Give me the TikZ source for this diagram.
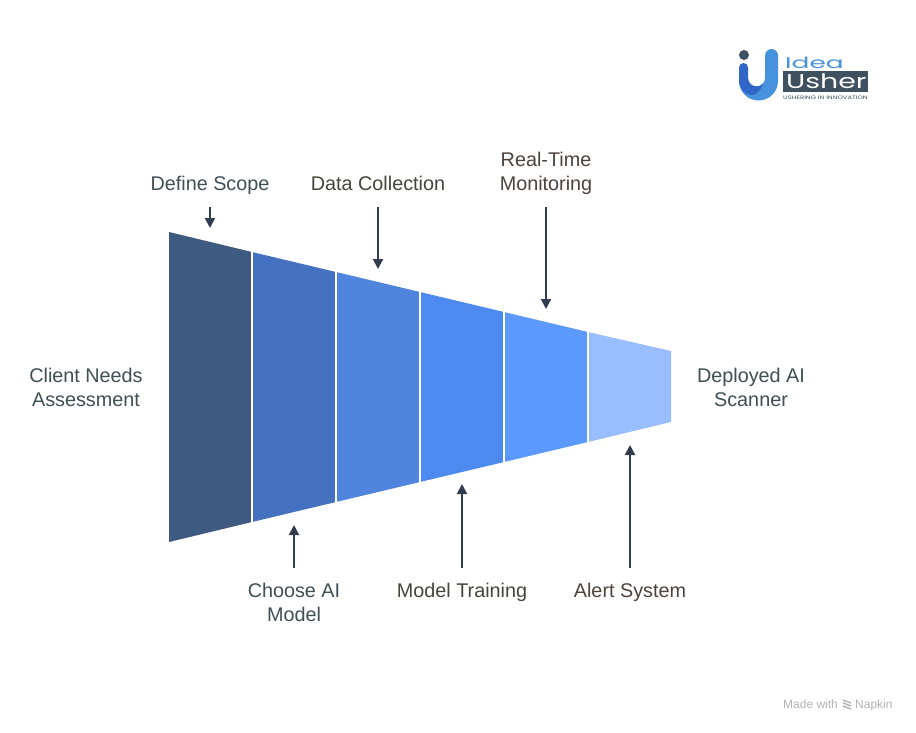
\documentclass[tikz,border=0pt]{standalone}
\usepackage{fontspec}
\setmainfont{Liberation Sans}
\newfontfamily\logofont{Poppins}
\usetikzlibrary{arrows.meta,positioning,calc}
\definecolor{segA}{HTML}{3F5A80}
\definecolor{segB}{HTML}{4472C0}
\definecolor{segC}{HTML}{5085DD}
\definecolor{segD}{HTML}{4D8AF0}
\definecolor{segE}{HTML}{5B99FF}
\definecolor{segF}{HTML}{99BEFF}
\definecolor{arrowcol}{HTML}{333D50}
\definecolor{logodark}{HTML}{3F5060}
\definecolor{logoblue}{HTML}{4692DC}
\definecolor{logodeep}{HTML}{3066C8}
\definecolor{txtslate}{HTML}{3F4F55}
\definecolor{txtolive}{HTML}{45453C}
\definecolor{txtbrown}{HTML}{4E423C}
\newcommand{\lblstrut}{\rule[-5pt]{0pt}{19pt}}
\tikzset{
  lbl/.style={font=\fontsize{19.8}{24}\selectfont, align=center, inner sep=0pt},
  toplbl/.style={lbl, anchor=south, inner ysep=11pt},
  botlbl/.style={lbl, anchor=north, inner ysep=15pt},
  flow/.style={-{Stealth[length=10pt,width=10pt,inset=0pt]}, draw=arrowcol, line width=2pt},
  credit/.style={font=\fontsize{12}{14}\selectfont, text=black!30, inner sep=0pt, anchor=base west},
}
\begin{document}
\begin{tikzpicture}[x=1pt, y=-1pt, line join=round]
\useasboundingbox (0,0) rectangle (916,732);
\fill[white] (0,0) rectangle (916,732);
% funnel
\fill[segA] (169,232)--(252,252)--(252,522)--(169,542)--cycle;
\fill[segB] (252,252)--(336,272)--(336,502)--(252,522)--cycle;
\fill[segC] (336,272)--(420,292)--(420,482)--(336,502)--cycle;
\fill[segD] (420,292)--(504,312)--(504,462)--(420,482)--cycle;
\fill[segE] (504,312)--(588,332)--(588,442)--(504,462)--cycle;
\fill[segF] (588,332)--(671,351)--(671,422)--(588,442)--cycle;
\foreach \x/\t/\b in {252/251/523,336/271/503,420/291/483,504/311/463,588/331/443}
  \draw[white, line width=2pt] (\x,\t)--(\x,\b);
% labels
\node[lbl, text=txtslate] (client) at (86,390) {\lblstrut Client Needs\\\lblstrut Assessment};
\node[lbl, text=txtslate] (scanner) at (751,390) {\lblstrut Deployed AI\\\lblstrut Scanner};
\node[toplbl, text=txtslate] (scope) at (210,207) {\lblstrut Define Scope};
\node[toplbl, text=txtolive] (collect) at (378,207) {\lblstrut Data Collection};
\node[toplbl, text=txtbrown] (monitor) at (546,207) {\lblstrut Real-Time\\\lblstrut Monitoring};
\node[botlbl, text=txtslate] (choose) at (294,568) {\lblstrut Choose AI\\\lblstrut Model};
\node[botlbl, text=txtolive] (train) at (462,568) {\lblstrut Model Training};
\node[botlbl, text=txtbrown] (alert) at (630,568) {\lblstrut Alert System};
% arrows
\coordinate (scopetip) at (210,228);
\coordinate (collecttip) at (378,269);
\coordinate (monitortip) at (546,309);
\coordinate (choosetip) at (294,525);
\coordinate (traintip) at (462,484);
\coordinate (alerttip) at (630,445);
\draw[flow] (scope.south)--(scopetip);
\draw[flow] (collect.south)--(collecttip);
\draw[flow] (monitor.south)--(monitortip);
\draw[flow] (choose.north)--(choosetip);
\draw[flow] (train.north)--(traintip);
\draw[flow] (alert.north)--(alerttip);
% logo
\fill[logodark] (744,55) circle(5);
\fill[logoblue] (765,55.5) arc(180:360:6.5) -- (778,81) arc(0:180:19.5) -- (748,78) arc(180:0:8.5) -- cycle;
\fill[logodeep] (739,67.5) arc(180:360:4.5) -- (748,78) arc(180:40:8.5) .. controls (760,92) and (756,95) .. (752,95) .. controls (745,95) and (739,88) .. (739,80) -- cycle;
\node[inner sep=0pt, text=logoblue, anchor=west] (idea) at (785,62.5) {\logofont\fontsize{15.5}{15.5}\selectfont\scalebox{1.7}[1]{Idea}};
\fill[logodark] (783,71) rectangle (868,92);
\node[inner sep=0pt, text=white, anchor=west] (usher) at (786,81.5) {\logofont\fontsize{20}{20}\selectfont\scalebox{1.42}[1]{Usher}};
\node[inner sep=0pt, text=logodark, anchor=west] (slogan) at (783,97.5) {\logofont\fontsize{5}{5}\selectfont\scalebox{1.37}[1]{USHERING IN INNOVATION}};
% watermark
\node[credit] (made) at (783,708) {Made with};
\node[credit] (napkin) at (855,708) {Napkin};
\foreach \y in {0,3,6}
  \draw[black!30, line width=1.4pt] (843,700+\y)--(851,703+\y);
\end{tikzpicture}
\end{document}
